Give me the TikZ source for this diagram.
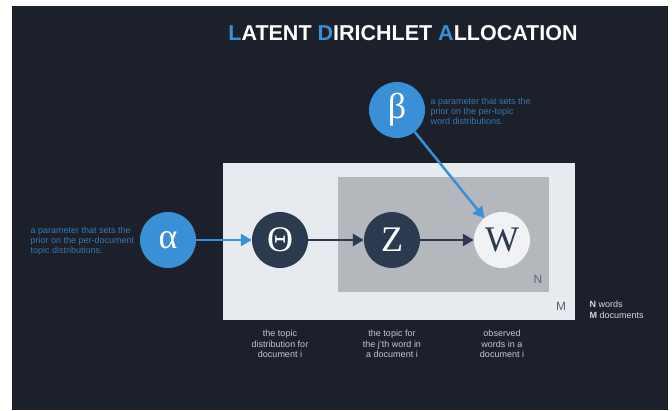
\documentclass[tikz,border=0pt]{standalone}
\usepackage{fontspec}
\setmainfont{Liberation Sans}
\newfontfamily\symfont{Liberation Serif}
\usetikzlibrary{arrows.meta}

\definecolor{bgdark}{HTML}{1B202A}
\definecolor{platelight}{HTML}{E7EAEE}
\definecolor{plategray}{HTML}{B4B7BC}
\definecolor{nodedark}{HTML}{2B3A4E}
\definecolor{nodeblue}{HTML}{3A90D6}
\definecolor{textblue}{HTML}{3C76AE}
\definecolor{textgray}{HTML}{C3C8CF}
\definecolor{labelgray}{HTML}{5B6370}

\begin{document}
\begin{tikzpicture}[x=1pt,y=-1pt,
    var/.style={circle,minimum size=56pt,inner sep=0pt,font=\symfont\fontsize{36}{36}\selectfont},
    hyper/.style={var,fill=nodeblue,text=white},
    latent/.style={var,fill=nodedark,text=white},
    observed/.style={var,fill=platelight!60!white,text=nodedark},
    note/.style={font=\fontsize{9}{10}\selectfont,text=textblue,align=left,anchor=west},
    capt/.style={font=\fontsize{9}{10.5}\selectfont,text=textgray,align=center},
    platelabel/.style={font=\fontsize{12}{12}\selectfont,text=labelgray},
    link/.style={line width=2.5pt,-{Triangle[length=11pt,width=12pt]}}]
    \useasboundingbox (0,0) rectangle (672,410);
    \fill[white] (0,0) rectangle (672,410);
    \fill[bgdark] (12,6) rectangle (668,410);

    \node[anchor=base,font=\bfseries\fontsize{21.5}{21.5}\selectfont,text=white] (title) at (403,40.7)
      {\textcolor{nodeblue}{L}ATENT \textcolor{nodeblue}{D}IRICHLET \textcolor{nodeblue}{A}LLOCATION};

    % plates: M documents, N words
    \fill[platelight] (223,163) rectangle (575,320);
    \fill[plategray] (338,177) rectangle (549,292);
    \node[platelabel] (nlabel) at (538,279) {N};
    \node[platelabel] (mlabel) at (561,306) {M};

    \node[hyper] (alpha) at (168,240) {α};
    \node[latent] (theta) at (280,240) {Θ};
    \node[latent] (z) at (392,240) {Z};
    \node[observed] (w) at (502,240) {W};
    \node[hyper] (beta) at (397,110) {β};

    \draw[link,nodeblue] (alpha) -- (theta);
    \draw[link,nodedark] (theta) -- (z);
    \draw[link,nodedark] (z) -- (w);
    \draw[link,nodeblue] (beta) -- (w);

    \node[note] (alphanote) at (27,241) {a parameter that sets the\\prior on the per-document\\topic distributions.};
    \node[note] (betanote) at (427,111) {a parameter that sets the\\prior on the per-topic\\word distributions.};

    % what each variable stands for
    \node[capt] (captheta) at (280,344) {the topic\\distribution for\\document i};
    \node[capt] (captz) at (392,344) {the topic for\\the j'th word in\\a document i};
    \node[capt] (captw) at (502,344) {observed\\words in a\\document i};

    \node[anchor=west,align=left,font=\fontsize{9}{11}\selectfont,text=textgray!70!white] (legend) at (586,309.5)
      {\textbf{N} words\\\textbf{M} documents};
\end{tikzpicture}
\end{document}
